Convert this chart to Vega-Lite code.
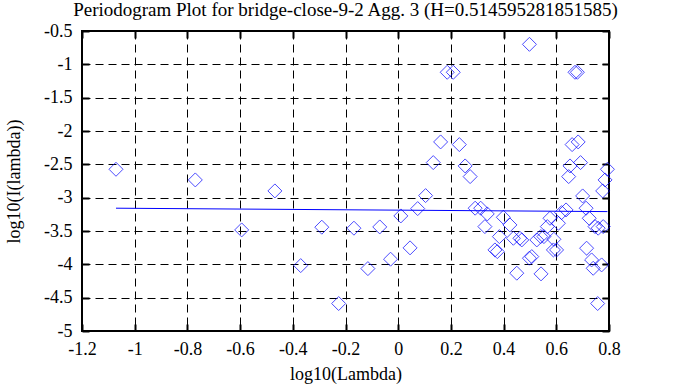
{
  "$schema": "https://vega.github.io/schema/vega-lite/v6.json",
  "width": 527,
  "height": 300,
  "autosize": "none",
  "padding": {"left": 82, "top": 31, "right": 74, "bottom": 56},
  "background": "white",
  "title": {
    "text": "Periodogram Plot for bridge-close-9-2 Agg. 3 (H=0.514595281851585)",
    "font": "Liberation Serif",
    "fontSize": 19,
    "fontWeight": "normal",
    "color": "black",
    "offset": 2
  },
  "config": {
    "view": {"stroke": "black", "strokeWidth": 2},
    "style": {
      "guide-label": {"font": "Liberation Serif", "fontSize": 18, "fill": "black"},
      "guide-title": {"font": "Liberation Serif", "fontSize": 18, "fill": "black", "fontWeight": "normal"}
    },
    "axis": {
      "labelFont": "Liberation Serif",
      "labelFontSize": 18,
      "labelColor": "black",
      "titleFont": "Liberation Serif",
      "titleFontSize": 18,
      "titleFontWeight": "normal",
      "titleColor": "black",
      "domain": false,
      "tickColor": "black",
      "tickSize": -7,
      "tickWidth": 2,
      "gridColor": "black",
      "gridDash": [8, 5],
      "gridOpacity": 1,
      "gridWidth": 1
    }
  },
  "datasets": {
    "points": [
      {"lambda": -1.071, "I": -2.574},
      {"lambda": -0.770, "I": -2.734},
      {"lambda": -0.594, "I": -3.484},
      {"lambda": -0.468, "I": -2.899},
      {"lambda": -0.370, "I": -4.019},
      {"lambda": -0.290, "I": -3.443},
      {"lambda": -0.226, "I": -4.588},
      {"lambda": -0.168, "I": -3.458},
      {"lambda": -0.115, "I": -4.064},
      {"lambda": -0.070, "I": -3.439},
      {"lambda": -0.029, "I": -3.923},
      {"lambda": 0.010, "I": -3.274},
      {"lambda": 0.045, "I": -3.753},
      {"lambda": 0.074, "I": -3.164},
      {"lambda": 0.104, "I": -2.969},
      {"lambda": 0.133, "I": -2.474},
      {"lambda": 0.161, "I": -2.164},
      {"lambda": 0.186, "I": -1.119},
      {"lambda": 0.209, "I": -1.119},
      {"lambda": 0.232, "I": -2.204},
      {"lambda": 0.254, "I": -2.524},
      {"lambda": 0.273, "I": -2.684},
      {"lambda": 0.292, "I": -3.158},
      {"lambda": 0.313, "I": -3.158},
      {"lambda": 0.338, "I": -3.244},
      {"lambda": 0.329, "I": -3.434},
      {"lambda": 0.367, "I": -3.784},
      {"lambda": 0.376, "I": -3.809},
      {"lambda": 0.384, "I": -3.584},
      {"lambda": 0.399, "I": -3.294},
      {"lambda": 0.424, "I": -3.409},
      {"lambda": 0.437, "I": -3.609},
      {"lambda": 0.450, "I": -4.133},
      {"lambda": 0.462, "I": -3.609},
      {"lambda": 0.469, "I": -3.634},
      {"lambda": 0.498, "I": -0.700},
      {"lambda": 0.498, "I": -3.908},
      {"lambda": 0.507, "I": -3.884},
      {"lambda": 0.526, "I": -3.634},
      {"lambda": 0.541, "I": -3.584},
      {"lambda": 0.542, "I": -4.143},
      {"lambda": 0.553, "I": -3.584},
      {"lambda": 0.566, "I": -3.434},
      {"lambda": 0.576, "I": -3.309},
      {"lambda": 0.589, "I": -3.784},
      {"lambda": 0.591, "I": -3.624},
      {"lambda": 0.601, "I": -3.784},
      {"lambda": 0.608, "I": -3.384},
      {"lambda": 0.620, "I": -3.224},
      {"lambda": 0.637, "I": -3.184},
      {"lambda": 0.647, "I": -2.684},
      {"lambda": 0.652, "I": -2.524},
      {"lambda": 0.660, "I": -2.204},
      {"lambda": 0.671, "I": -1.119},
      {"lambda": 0.680, "I": -1.119},
      {"lambda": 0.683, "I": -2.164},
      {"lambda": 0.692, "I": -2.474},
      {"lambda": 0.700, "I": -2.974},
      {"lambda": 0.713, "I": -3.158},
      {"lambda": 0.715, "I": -3.758},
      {"lambda": 0.725, "I": -3.309},
      {"lambda": 0.734, "I": -3.934},
      {"lambda": 0.740, "I": -4.059},
      {"lambda": 0.747, "I": -3.434},
      {"lambda": 0.757, "I": -4.588},
      {"lambda": 0.759, "I": -3.458},
      {"lambda": 0.772, "I": -4.009},
      {"lambda": 0.778, "I": -3.434},
      {"lambda": 0.776, "I": -2.899},
      {"lambda": 0.785, "I": -2.734},
      {"lambda": 0.794, "I": -2.574}
    ],
    "fit": [
      {"lambda": -1.071, "I": -3.158},
      {"lambda": 0.794, "I": -3.209}
    ]
  },
  "layer": [
    {
      "data": {"name": "points"},
      "mark": {"type": "point", "shape": "diamond", "size": 196, "color": "#0000ff", "strokeWidth": 1, "filled": false},
      "encoding": {
        "x": {
          "field": "lambda", "type": "quantitative",
          "scale": {"domain": [-1.2, 0.8], "nice": false, "zero": false},
          "axis": {"title": "log10(Lambda)", "values": [-1.2, -1, -0.8, -0.6, -0.4, -0.2, 0, 0.2, 0.4, 0.6, 0.8], "labelExpr": "datum.value + ''", "labelPadding": 16, "titlePadding": 7, "labelFlush": false, "labelFont": "Liberation Serif", "titleFont": "Liberation Serif"}
        },
        "y": {
          "field": "I", "type": "quantitative",
          "scale": {"domain": [-5, -0.5], "nice": false, "zero": false},
          "axis": {"title": "log10(I(lambda))", "values": [-5, -4.5, -4, -3.5, -3, -2.5, -2, -1.5, -1, -0.5], "labelExpr": "datum.value + ''", "labelPadding": 17, "titlePadding": 20, "labelFlush": false, "labelFont": "Liberation Serif", "titleFont": "Liberation Serif"}
        }
      }
    },
    {
      "data": {"name": "fit"},
      "mark": {"type": "line", "color": "#0000ff", "strokeWidth": 1},
      "encoding": {
        "x": {
          "field": "lambda", "type": "quantitative",
          "axis": {"orient": "top", "title": null, "labels": false, "grid": false, "values": [-1.2, -1, -0.8, -0.6, -0.4, -0.2, 0, 0.2, 0.4, 0.6, 0.8]}
        },
        "y": {
          "field": "I", "type": "quantitative",
          "axis": {"orient": "right", "title": null, "labels": false, "grid": false, "values": [-5, -4.5, -4, -3.5, -3, -2.5, -2, -1.5, -1, -0.5]}
        }
      }
    }
  ],
  "resolve": {"axis": {"x": "independent", "y": "independent"}}
}
